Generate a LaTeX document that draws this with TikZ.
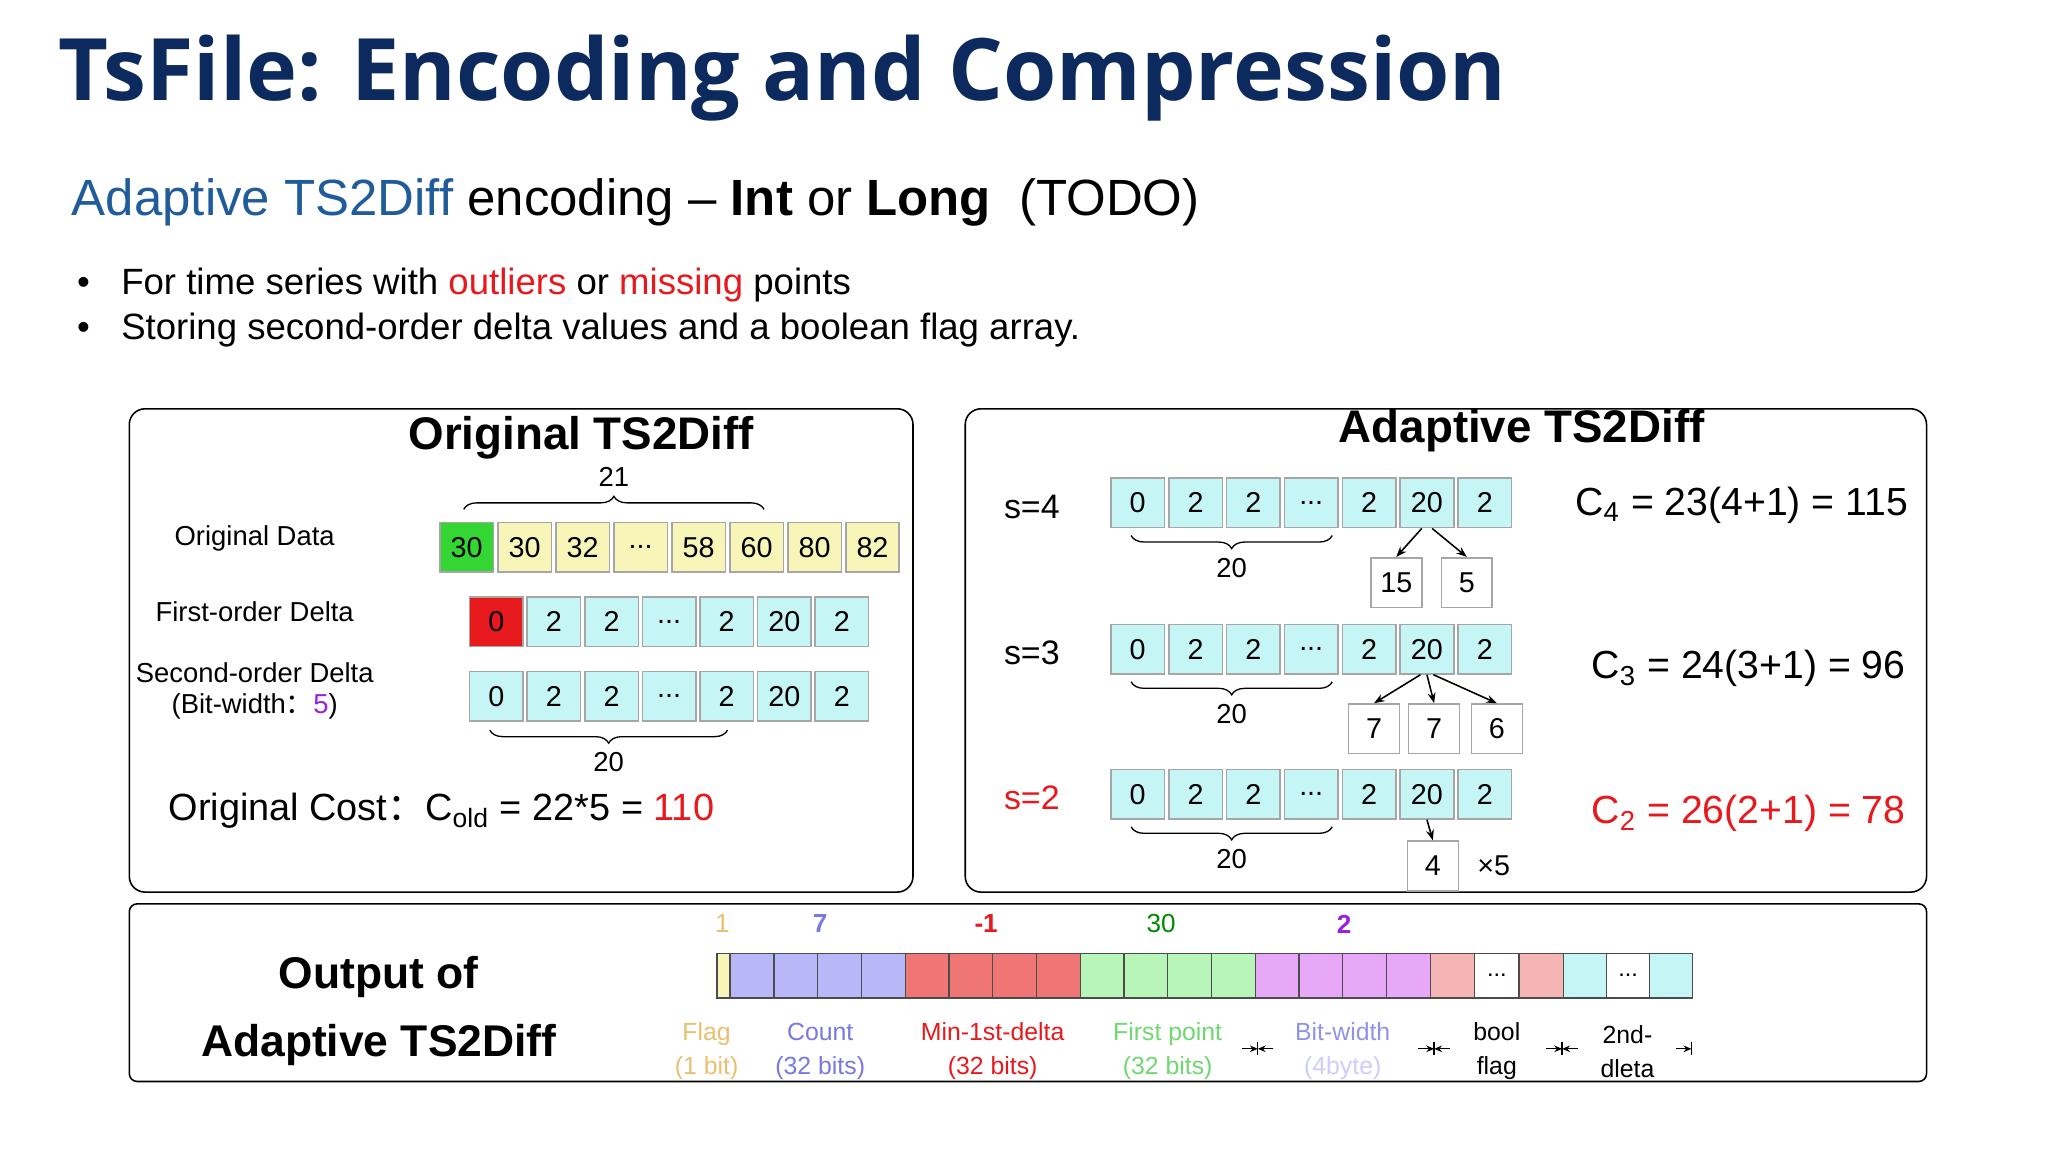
\documentclass[tikz,border=0pt]{standalone}
\usepackage{fontspec}
\setmainfont{Liberation Sans}
\newfontfamily\titlefont{Open Sans}
\newfontfamily\cjk{Noto Sans CJK SC}
\usetikzlibrary{arrows.meta,decorations.pathreplacing}
\newcommand\mydots{...}
\newcommand\fwcolon{{\cjk ：}}
\definecolor{navy}{HTML}{0D2A5E}
\definecolor{subblue}{HTML}{1F5C99}
\definecolor{cyanc}{HTML}{C6F5F5}
\definecolor{yel}{HTML}{F8F5B8}
\definecolor{grn}{HTML}{33D633}
\definecolor{redc}{HTML}{E8191C}
\definecolor{lav}{HTML}{B8B8F8}
\definecolor{minr}{HTML}{F07575}
\definecolor{lgrn}{HTML}{B8F5B8}
\definecolor{vio}{HTML}{E8A8F8}
\definecolor{pnk}{HTML}{F5B5B5}
\definecolor{tan}{HTML}{E8C070}
\definecolor{cnt}{HTML}{7878E0}
\definecolor{fpt}{HTML}{70D870}
\definecolor{purp}{HTML}{9A20E0}
\tikzset{
 cell/.style={draw=gray!70,line width=0.6pt,minimum width=20.5pt,minimum height=19pt,inner sep=0pt,font=\fontsize{11}{11}\selectfont},
 wcell/.style={cell,fill=white,minimum width=19.5pt},
 panel/.style={draw=black,line width=0.6pt,rounded corners=6pt},
 lbl/.style={font=\fontsize{10.5}{12}\selectfont,align=center},
 brc/.style={decorate,decoration={brace,amplitude=5pt},line width=0.5pt},
 arr/.style={-{Stealth[length=4pt,width=3pt]},line width=0.6pt},
 bar/.style={draw=black!70,line width=0.5pt,minimum height=17pt,inner sep=0pt,font=\fontsize{9}{9}\selectfont},
 blab/.style={font=\fontsize{9.5}{13}\selectfont,align=center}
}
\begin{document}
\begin{tikzpicture}[x=0.5pt,y=-0.5pt]
\useasboundingbox (0,0) rectangle (1568,882);
\fill[white] (0,0) rectangle (1568,882);
% titles
\node[anchor=west,text=navy,font=\titlefont\bfseries\fontsize{33}{33}\selectfont] (title) at (38,60) {TsFile: Encoding and Compression};
\node[anchor=west,font=\fontsize{19.5}{20}\selectfont] (sub) at (48,155) {\textcolor{subblue}{Adaptive TS2Diff} encoding -- \textbf{Int} or \textbf{Long}\ \ (TODO)};
\node[anchor=west,font=\fontsize{14}{14}\selectfont] (b1) at (52,218) {•\hspace{12pt}For time series with \textcolor{redc}{outliers} or \textcolor{redc}{missing} points};
\node[anchor=west,font=\fontsize{14}{14}\selectfont] (b2) at (52,253) {•\hspace{12pt}Storing second-order delta values and a boolean flag array.};
% panels
\draw[panel] (99,313) rectangle (699,683);
\draw[panel] (739,313) rectangle (1475,683);
\draw[panel,rounded corners=3pt] (99,692) rectangle (1475,828);
% left panel
\node[font=\bfseries\fontsize{17.5}{18}\selectfont] (lt) at (445,335) {Original TS2Diff};
\node[lbl] (ld) at (195,412) {Original Data};
\node[lbl] (lf) at (195,468) {First-order Delta};
\node[lbl] (ls) at (195,529) {Second-order Delta\\(Bit-width\fwcolon\textcolor{purp}{5})};
\foreach \v [count=\i] in {30,30,32,\mydots,58,60,80,82}{
  \node[cell,fill=yel] (o\i) at ({357.2+44.4*(\i-1)},419) {\v};}
\node[cell,fill=grn] at (o1) {30};
\foreach \v [count=\i] in {0,2,2,\mydots,2,20,2}{
  \node[cell,fill=cyanc] (f\i) at ({380+44.1*(\i-1)},476) {\v};
  \node[cell,fill=cyanc] (s\i) at ({380+44.1*(\i-1)},533) {\v};}
\node[cell,fill=redc] at (f1) {0};
\draw[brc] (355,390) -- (585,390) node[midway,above=5pt,font=\fontsize{10.5}{11}\selectfont] (n21) {21};
\draw[brc] (557,559) -- (375,559) node[midway,below=5pt,font=\fontsize{10.5}{11}\selectfont] (n20l) {20};
\node[anchor=west,font=\fontsize{14.5}{15}\selectfont] (cost) at (122,621) {Original Cost\fwcolon C\textsubscript{old} = 22*5 = \textcolor{redc}{110}};
% right panel
\node[font=\bfseries\fontsize{17.5}{18}\selectfont] (rt) at (1165,330) {Adaptive TS2Diff};
\foreach \r/\y/\lab/\col in {a/385/s=4/black,b/497/s=3/black,c/608/s=2/redc}{
  \node[font=\fontsize{13}{13}\selectfont,text=\col] (\r s) at (790,\y+3) {\lab};
  \foreach \v [count=\i] in {0,2,2,\mydots,2,20,2}{
    \node[cell,fill=cyanc] (\r\i) at ({871+44.3*(\i-1)},\y) {\v};}
  \draw[brc] (1020,\y+25) -- (866,\y+25) node[midway,below=5pt,font=\fontsize{10.5}{11}\selectfont] (\r n) {20};
}
\node[wcell] (p1) at (1069,446) {15};
\node[wcell] (p2) at (1123,446) {5};
\draw[arr] (a6.south) ++(-4,0) coordinate (a6l) -- (p1.north);
\draw[arr] (a6.south) ++(4,0) coordinate (a6r) -- (p2.north);
\node[wcell] (q1) at (1052,558) {7};
\node[wcell] (q2) at (1098,558) {7};
\node[wcell] (q3) at (1146,558) {6};
\draw[arr] (b6.south) ++(-5,0) coordinate (b6l) -- (q1.north);
\draw[arr] (b6.south) -- (q2.north);
\draw[arr] (b6.south) ++(5,0) coordinate (b6r) -- (q3.north);
\node[wcell] (r1) at (1097,663) {4};
\draw[arr] (c6.south) -- (r1.north);
\node[font=\fontsize{11}{11}\selectfont,anchor=west] (x5) at (1124,663) {×5};
\node[anchor=east,font=\fontsize{15}{15}\selectfont] (c4) at (1468,387) {C\textsubscript{4} = 23(4+1) = 115};
\node[anchor=east,font=\fontsize{15}{15}\selectfont] (c3) at (1466,512) {C\textsubscript{3} = 24(3+1) = 96};
\node[anchor=east,font=\fontsize{15}{15}\selectfont,text=redc] (c2) at (1466,623) {C\textsubscript{2} = 26(2+1) = 78};
% bottom panel
\node[font=\bfseries\fontsize{17}{18}\selectfont] (o1t) at (290,748) {Output of};
\node[font=\bfseries\fontsize{17}{18}\selectfont] (o2t) at (290,800) {Adaptive TS2Diff};
\node[bar,fill=yel,minimum width=5pt] (fl) at (554,747) {};
\foreach \i in {0,...,3}{
  \node[bar,fill=lav,minimum width=16.75pt] (cn\i) at ({575.75+33.5*\i},747) {};
  \node[bar,fill=minr,minimum width=16.75pt] (mn\i) at ({709.75+33.5*\i},747) {};
  \node[bar,fill=lgrn,minimum width=16.75pt] (fp\i) at ({843.75+33.5*\i},747) {};
  \node[bar,fill=vio,minimum width=16.75pt] (bw\i) at ({977.75+33.5*\i},747) {};}
\node[bar,fill=pnk,minimum width=17pt] (bf1) at (1112,747) {};
\node[bar,fill=white,minimum width=17pt] (bf2) at (1146,747) {...};
\node[bar,fill=pnk,minimum width=17pt] (bf3) at (1180,747) {};
\node[bar,fill=cyanc,minimum width=16.5pt] (sd1) at (1213.5,747) {};
\node[bar,fill=white,minimum width=16.5pt] (sd2) at (1246.5,747) {...};
\node[bar,fill=cyanc,minimum width=16.5pt] (sd3) at (1279.5,747) {};
\node[font=\fontsize{10}{10}\selectfont,text=tan] (v1) at (553,707) {1};
\node[font=\bfseries\fontsize{10}{10}\selectfont,text=cnt] (v7) at (628,707) {7};
\node[font=\bfseries\fontsize{10}{10}\selectfont,text=redc] (vm) at (755,707) {-1};
\node[font=\fontsize{10}{10}\selectfont,text=green!55!black] (v30) at (889,707) {30};
\node[font=\bfseries\fontsize{10}{10}\selectfont,text=purp] (v2) at (1029,708) {2};
\node[blab,text=tan] (lfl) at (541,805) {Flag\\(1 bit)};
\node[blab,text=cnt] (lcn) at (628,805) {Count\\(32 bits)};
\node[blab,text=redc] (lmn) at (760,805) {Min-1st-delta\\(32 bits)};
\node[blab,text=fpt] (lfp) at (894,805) {First point\\(32 bits)};
\node[blab] (lbw) at (1028,805) {\textcolor{cnt!80}{Bit-width}\\\textcolor{lav!70}{(4byte)}};
\node[blab] (lbf) at (1146,805) {bool\\flag};
\node[blab] (lsd) at (1246,805) {2nd-\\dleta};
\foreach \xx/\nm in {963/d1,1098/d2,1196/d3}{
  \coordinate (\nm) at (\xx,803);
  \draw[line width=0.5pt] (\nm) ++(0,-5) -- ++(0,10);
  \draw[-{Stealth[length=3pt,width=2.5pt]},line width=0.5pt] (\nm) ++(-12,0) -- (\nm);
  \draw[-{Stealth[length=3pt,width=2.5pt]},line width=0.5pt] (\nm) ++(12,0) -- (\nm);}
\coordinate (d4) at (1295,803);
\draw[line width=0.5pt] (d4) ++(0,-5) -- ++(0,10);
\draw[-{Stealth[length=3pt,width=2.5pt]},line width=0.5pt] (d4) ++(-12,0) -- (d4);
\end{tikzpicture}
\end{document}
